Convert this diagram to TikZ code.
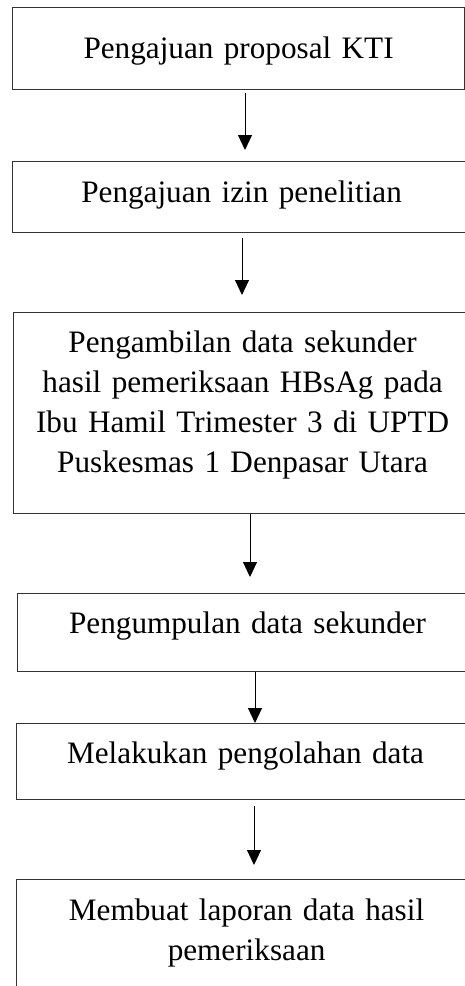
\documentclass[tikz,border=0pt]{standalone}
\usepackage{fontspec}
\setmainfont{Liberation Serif}
\usetikzlibrary{arrows.meta}

\begin{document}
\begin{tikzpicture}[x=1pt,y=-1pt,
		kasten/.style={draw=black!80, line width=1.2pt, rectangle, anchor=north west,
			align=center, inner xsep=0pt, inner ysep=0pt,
			font=\fontsize{31.2}{40}\selectfont},
		panah/.style={line width=1pt, -{Triangle[width=14pt,length=15pt]}}]
		% Rahmen
		\useasboundingbox (0,0) rectangle (465,986);
		
		% Kaesten
		\node[kasten, text width=452pt, text height=51pt, text depth=31pt] (kti) at (12,7) {Pengajuan proposal KTI};
		\node[kasten, text width=458pt, text height=41pt, text depth=30pt] (izin) at (12,161) {Pengajuan izin penelitian};
		\node[kasten, text width=458pt, text height=40pt, text depth=161pt] (ambil) at (13,312) {Pengambilan data sekunder\\ hasil pemeriksaan HBsAg pada\\ Ibu Hamil Trimester 3 di UPTD\\ Puskesmas 1 Denpasar Utara};
		\node[kasten, text width=460pt, text height=40pt, text depth=38pt] (kumpul) at (17,593) {Pengumpulan data sekunder};
		\node[kasten, text width=458pt, text height=40pt, text depth=36pt] (olah) at (16,723) {Melakukan pengolahan data};
		\node[kasten, text width=460pt, text height=41pt, text depth=80pt] (lapor) at (16,879) {Membuat laporan data hasil\\ pemeriksaan};
		
		% Pfeile
		\draw[panah, shorten <=3pt, shorten >=11pt] (245,0 |- kti.south) -- (245,0 |- izin.north);
		\draw[panah, shorten <=5pt, shorten >=17pt] (242,0 |- izin.south) -- (242,0 |- ambil.north);
		\draw[panah, shorten >=16pt] (250,0 |- ambil.south) -- (250,0 |- kumpul.north);
		\draw[panah] (255,0 |- kumpul.south) -- (255,0 |- olah.north);
		\draw[panah, shorten <=6pt, shorten >=14pt] (254,0 |- olah.south) -- (254,0 |- lapor.north);
	\end{tikzpicture}
\end{document}
